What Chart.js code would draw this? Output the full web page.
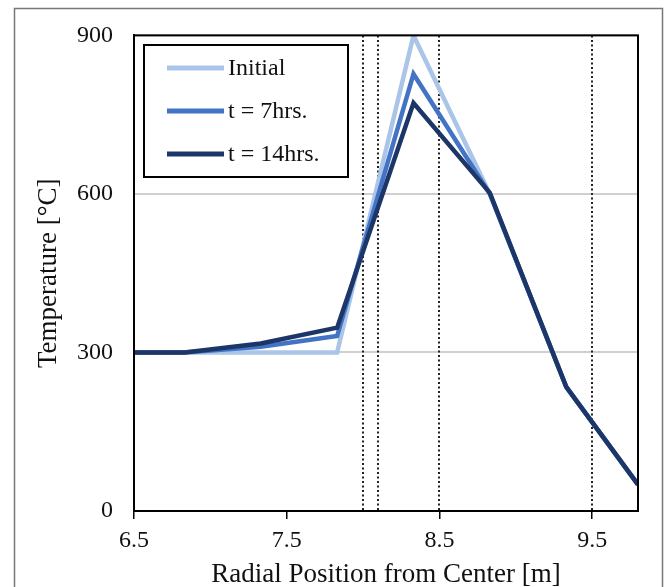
<!DOCTYPE html>
<html>
<head>
<meta charset="utf-8">
<script src="https://cdn.jsdelivr.net/npm/chart.js@4.4.0/dist/chart.umd.min.js"></script>
<style>
  html, body { margin: 0; padding: 0; background: #fff; }
  #wrap { width: 669px; height: 587px; }
</style>
</head>
<body>
<div id="wrap"><canvas id="chart-canvas" width="669" height="587"></canvas></div>
<script>
const positions = [6.5, 6.83, 7.33, 7.83, 8.33, 8.83, 9.33, 9.8];
const initialTemps = [300, 300, 300, 300, 900, 600, 235, 50];
const temps7h = [300, 300, 311, 331, 827, 600, 235, 50];
const temps14h = [300, 300, 317, 347, 772, 602, 235, 50];
const seriesLabels = ['Initial', 't = 7hrs.', 't = 14hrs.'];
const seriesColors = ['#abc5e8', '#4373c5', '#1c3767'];
const boundaries = [8.0, 8.1, 8.5, 9.5];
const xTicks = [6.5, 7.5, 8.5, 9.5];
const yTicks = [0, 300, 600, 900];

const serif = "'Liberation Serif', 'Times New Roman', serif";
const ctx = document.querySelector('#chart-canvas').getContext('2d');

const toPoints = vals => vals.map((v, i) => ({ x: positions[i], y: v }));

// later series sit on top, like the original
const makeSet = (idx, vals) => ({
	label: seriesLabels[idx],
	data: toPoints(vals),
	borderColor: seriesColors[idx],
	backgroundColor: seriesColors[idx],
	borderWidth: 4.5,
	pointRadius: 0,
	tension: 0,
	order: seriesLabels.length - idx,
	borderJoinStyle: 'miter'
});

// outer frame, dotted boundaries, plot border and in-plot legend
const decor = {
	id: 'decor',
	beforeDraw(chart) {
		const c = chart.ctx;
		c.save();
		c.fillStyle = '#fff';
		c.fillRect(0, 0, chart.width, chart.height);
		c.strokeStyle = '#777';
		c.lineWidth = 1.5;
		c.strokeRect(14.5, 8.5, 648, 620);
		c.restore();
	},
	beforeDatasetsDraw(chart) {
		const c = chart.ctx;
		const { top, bottom } = chart.chartArea;
		const xs = chart.scales.x;
		c.save();
		c.strokeStyle = '#222';
		c.lineWidth = 2;
		c.setLineDash([2, 2.5]);
		boundaries.forEach(b => {
			const px = Math.round(xs.getPixelForValue(b));
			c.beginPath();
			c.moveTo(px, top);
			c.lineTo(px, bottom);
			c.stroke();
		});
		c.restore();
	},
	afterDraw(chart) {
		const c = chart.ctx;
		const { left, right, top, bottom } = chart.chartArea;
		c.save();
		c.strokeStyle = '#000';
		c.lineWidth = 2;
		c.strokeRect(left, top, right - left, bottom - top);

		// legend box
		c.fillStyle = '#fff';
		c.fillRect(144, 45, 204, 132);
		c.strokeRect(144, 45, 204, 132);
		const rows = [68, 111, 154];
		c.font = '24px ' + serif;
		c.textBaseline = 'middle';
		chart.data.datasets.forEach((ds, i) => {
			c.strokeStyle = ds.borderColor;
			c.lineWidth = 5;
			c.beginPath();
			c.moveTo(167, rows[i]);
			c.lineTo(224, rows[i]);
			c.stroke();
			c.fillStyle = '#111';
			c.fillText(ds.label, 228, rows[i] + 1);
		});
		c.restore();
	}
};

new Chart(ctx, {
	type: 'line',
	data: {
		datasets: [
			makeSet(0, initialTemps),
			makeSet(1, temps7h),
			makeSet(2, temps14h)
		]
	},
	options: {
		responsive: false,
		animation: false,
		layout: { padding: { top: 34, right: 31, left: 0, bottom: 0 } },
		plugins: {
			legend: { display: false },
			tooltip: { enabled: false }
		},
		scales: {
			x: {
				type: 'linear',
				min: 6.5,
				max: 9.8,
				afterFit: s => { s.height = 76; },
				afterBuildTicks: s => { s.ticks = xTicks.map(v => ({ value: v })); },
				border: { display: true, color: '#000', width: 2 },
				grid: { drawOnChartArea: false, drawTicks: true, tickLength: 8, color: '#000', lineWidth: 1.5 },
				ticks: {
					color: '#111',
					padding: 7,
					maxRotation: 0,
					font: { family: serif, size: 24 },
					callback: v => v.toFixed(1)
				},
				title: {
					display: true,
					text: 'Radial Position from Center [m]',
					color: '#111',
					font: { family: serif, size: 27 },
					padding: { top: 0, bottom: -4 }
				}
			},
			y: {
				type: 'linear',
				min: 0,
				max: 900,
				afterFit: s => { s.width = 134; },
				afterBuildTicks: s => { s.ticks = yTicks.map(v => ({ value: v })); },
				border: { display: true, color: '#000', width: 2 },
				grid: { drawTicks: false, color: '#d0d0d0', lineWidth: 2 },
				ticks: {
					color: '#111',
					padding: 21,
					font: { family: serif, size: 24 }
				},
				title: {
					display: true,
					text: 'Temperature [°C]',
					color: '#111',
					font: { family: serif, size: 27 },
					padding: { top: 33, bottom: 0 }
				}
			}
		}
	},
	plugins: [decor]
});
</script>
</body>
</html>
